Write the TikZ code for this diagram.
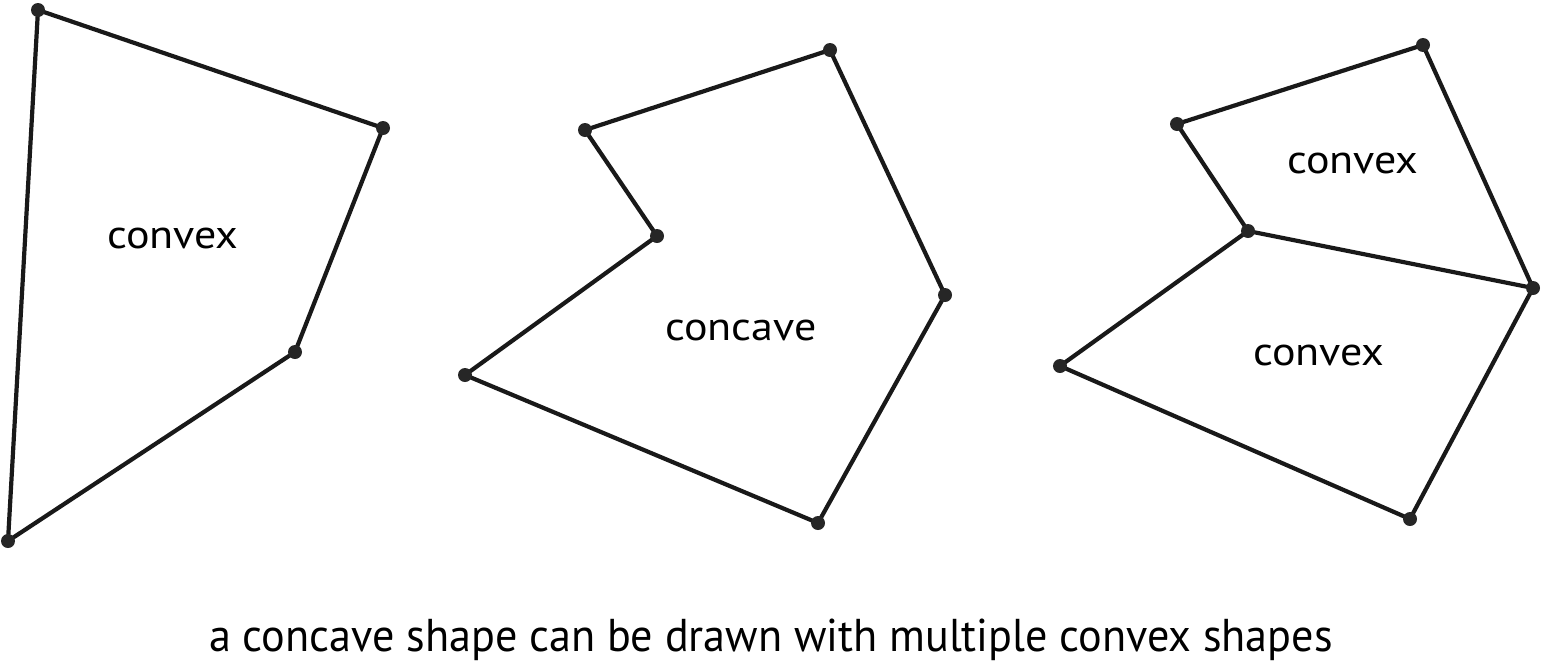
\documentclass[tikz,border=0pt]{standalone}
\usepackage{fontspec}
\setmainfont{PT Sans}
\begin{document}
\begin{tikzpicture}[x=0.5pt,y=-0.5pt,
  edge/.style={line width=2.1pt, black!90, line cap=round, line join=round},
  vtx/.style={circle, fill=black!85, inner sep=0pt, minimum size=7pt},
  lbl/.style={font=\fontsize{20}{24}\selectfont, inner sep=0pt},
  captext/.style={font=\fontsize{23}{27}\selectfont, inner sep=0pt}]
\useasboundingbox (0,0) rectangle (1544,670);
% shape 1
\coordinate (a1) at (38,10);
\coordinate (a2) at (383,128);
\coordinate (a3) at (295,352);
\coordinate (a4) at (8,541);
\draw[edge] (a1) -- (a2) -- (a3) -- (a4) -- cycle;
\foreach \p in {a1,a2,a3,a4} \node[vtx] at (\p) {};
\node[lbl] (l1) at (173,238) {\scalebox{1.1}[1]{convex}};
% shape 2
\coordinate (b1) at (830,50);
\coordinate (b2) at (945,295);
\coordinate (b3) at (818,523);
\coordinate (b4) at (465,375);
\coordinate (b5) at (657,236);
\coordinate (b6) at (585,130);
\draw[edge] (b1) -- (b2) -- (b3) -- (b4) -- (b5) -- (b6) -- cycle;
\foreach \p in {b1,b2,b3,b4,b5,b6} \node[vtx] at (\p) {};
\node[lbl] (l2) at (741,330) {\scalebox{1.1}[1]{concave}};
% shape 3
\coordinate (c1) at (1423,45);
\coordinate (c2) at (1533,288);
\coordinate (c3) at (1410,519);
\coordinate (c4) at (1060,366);
\coordinate (c5) at (1248,231);
\coordinate (c6) at (1177,124);
\draw[edge] (c1) -- (c2) -- (c3) -- (c4) -- (c5) -- (c6) -- cycle;
\draw[edge] (c5) -- (c2);
\foreach \p in {c1,c2,c3,c4,c5,c6} \node[vtx] at (\p) {};
\node[lbl] (l3) at (1353,163) {\scalebox{1.1}[1]{convex}};
\node[lbl] (l4) at (1319,355) {\scalebox{1.1}[1]{convex}};
% caption
\node[captext] (capt) at (771,640) {\scalebox{0.96}[1]{a concave shape can be drawn with multiple convex shapes}};
\end{tikzpicture}
\end{document}
